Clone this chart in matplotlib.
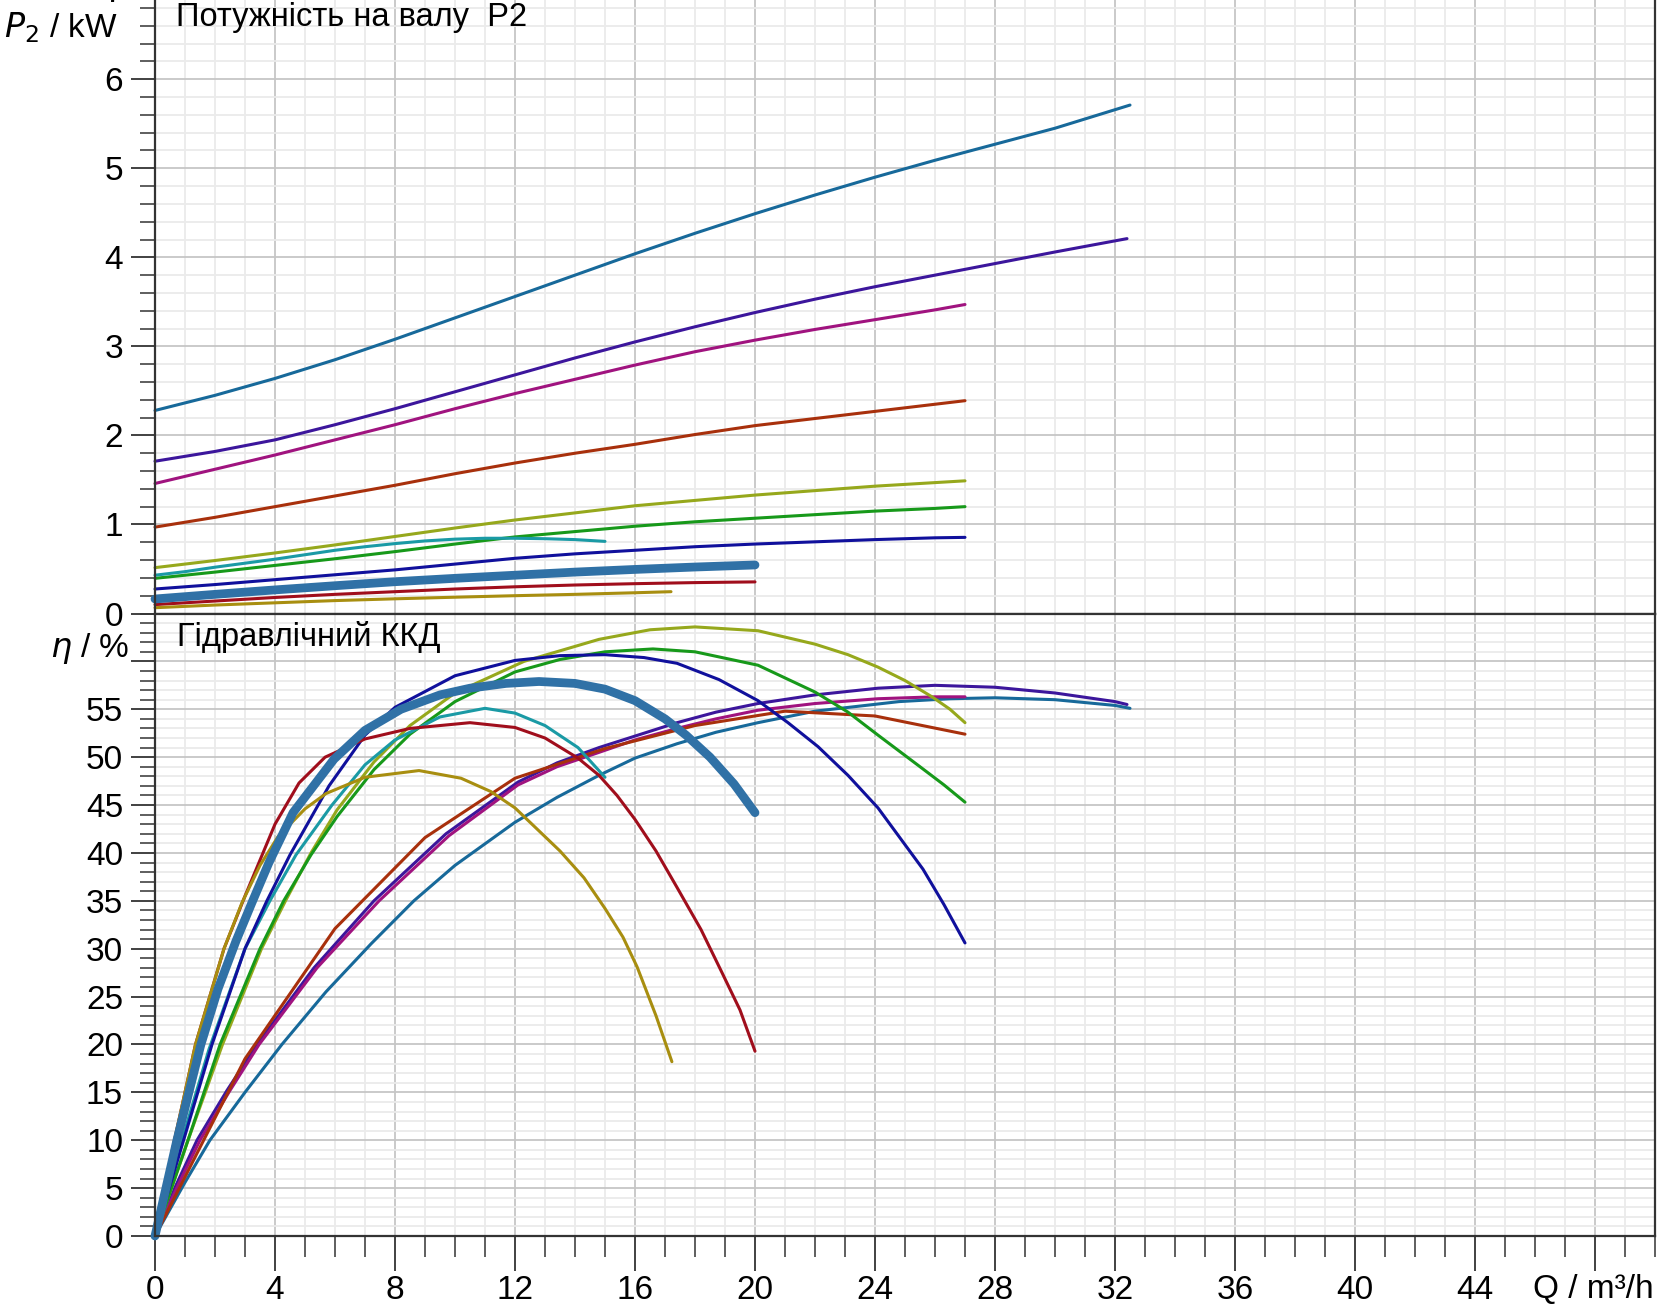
import matplotlib
matplotlib.use('Agg')
import matplotlib.pyplot as plt
from matplotlib.ticker import MultipleLocator

plt.rcParams['font.family'] = ['Liberation Sans', 'DejaVu Sans']

# ---------------- shaft power P2 (kW) vs Q (m3/h) ----------------
p_q_teal = [0, 2, 4, 6, 8, 10, 12, 14, 16, 18, 20, 22, 24, 26, 28, 30, 32.5]
p_teal = [2.28, 2.45, 2.64, 2.85, 3.08, 3.32, 3.56, 3.8, 4.04, 4.27, 4.49, 4.7, 4.9, 5.09, 5.27, 5.45, 5.71]
p_q_indigo = [0, 2, 4, 6, 8, 10, 12, 14, 16, 18, 20, 22, 24, 26, 28, 30, 32.4]
p_indigo = [1.71, 1.82, 1.95, 2.12, 2.3, 2.49, 2.68, 2.87, 3.05, 3.22, 3.38, 3.53, 3.67, 3.8, 3.93, 4.06, 4.21]
p_q_magenta = [0, 2, 4, 6, 8, 10, 12, 14, 16, 18, 20, 22, 24, 26, 27]
p_magenta = [1.46, 1.62, 1.78, 1.95, 2.12, 2.3, 2.47, 2.63, 2.79, 2.94, 3.07, 3.19, 3.3, 3.41, 3.47]
p_q_brown = [0, 2, 4, 6, 8, 10, 12, 14, 16, 18, 20, 22, 24, 26, 27]
p_brown = [0.97, 1.08, 1.2, 1.32, 1.44, 1.57, 1.69, 1.8, 1.9, 2.01, 2.11, 2.19, 2.27, 2.35, 2.39]
p_q_olive = [0, 2, 4, 6, 8, 10, 12, 14, 16, 18, 20, 22, 24, 26, 27]
p_olive = [0.515, 0.595, 0.68, 0.77, 0.865, 0.96, 1.05, 1.13, 1.21, 1.27, 1.33, 1.38, 1.43, 1.47, 1.49]
p_q_green = [0, 2, 4, 6, 8, 10, 12, 14, 16, 18, 20, 22, 24, 26, 27]
p_green = [0.395, 0.465, 0.54, 0.615, 0.695, 0.78, 0.86, 0.92, 0.98, 1.03, 1.07, 1.11, 1.15, 1.18, 1.2]
p_q_cyan = [0, 1, 2, 3, 4, 5, 6, 7, 8, 9, 10, 11, 12, 13, 14, 15]
p_cyan = [0.43, 0.47, 0.52, 0.565, 0.61, 0.66, 0.71, 0.75, 0.785, 0.815, 0.835, 0.845, 0.845, 0.84, 0.83, 0.81]
p_q_navy = [0, 2, 4, 6, 8, 10, 12, 14, 16, 18, 20, 22, 24, 26, 27]
p_navy = [0.275, 0.325, 0.38, 0.435, 0.49, 0.555, 0.62, 0.67, 0.71, 0.75, 0.78, 0.805, 0.83, 0.85, 0.855]
p_q_steel = [0, 2, 4, 6, 8, 10, 12, 14, 16, 18, 20]
p_steel = [0.163, 0.215, 0.265, 0.312, 0.357, 0.395, 0.43, 0.465, 0.495, 0.522, 0.545]
p_q_crimson = [0, 2, 4, 6, 8, 10, 12, 14, 16, 18, 20]
p_crimson = [0.10, 0.14, 0.18, 0.215, 0.245, 0.275, 0.30, 0.32, 0.335, 0.347, 0.355]
p_q_gold = [0, 2, 4, 6, 8, 10, 12, 14, 16, 17.2]
p_gold = [0.065, 0.095, 0.12, 0.145, 0.165, 0.183, 0.2, 0.215, 0.233, 0.245]

# ---------------- hydraulic efficiency (%) vs Q (m3/h) ----------------
e_q_teal = [0, 1, 1.83, 3, 4.23, 5.7, 7.2, 8.63, 10, 12, 13.4, 14.8, 16, 17.4, 18.7, 20.1, 22, 24.8,
            26.5, 28, 30, 32, 32.5]
e_teal = [0, 5.6, 10, 15, 20, 25.5, 30.5, 35, 38.7, 43.2, 45.8, 48.1, 49.9, 51.4, 52.6, 53.6, 54.8, 55.8,
          56.1, 56.2, 56.0, 55.4, 55.1]
e_q_indigo = [0, 0.7, 1.4, 2.4, 3.4, 5.3, 7.3, 9.7, 12.1, 13.4, 14.8, 16, 17.4, 18.7, 20.1, 22, 24.1,
              26, 28, 30, 32, 32.4]
e_indigo = [0, 5.3, 10, 15.2, 20, 28, 35, 42, 47.4, 49.4, 51.0, 52.2, 53.6, 54.7, 55.6, 56.5, 57.2,
            57.5, 57.3, 56.7, 55.8, 55.5]
e_q_magenta = [0, 0.75, 1.5, 2.5, 3.47, 5.4, 7.47, 9.8, 12.1, 13.4, 14.8, 16, 17.4, 18.7, 20.1, 22,
               24.1, 26, 27]
e_magenta = [0, 5.2, 10, 15.2, 20, 28, 35, 41.8, 47.1, 49.0, 50.5, 51.8, 53.0, 54.0, 54.9, 55.6,
             56.1, 56.3, 56.3]
e_q_brown = [0, 3, 6, 9, 12, 15, 18, 21, 24, 27]
e_brown = [0, 18.5, 32.1, 41.6, 47.8, 50.9, 53.3, 54.8, 54.3, 52.4]
e_q_olive = [0, 1.1, 2.25, 3.55, 4.35, 5.2, 6.07, 7.3, 8.5, 10, 12.3, 14.8, 16.5, 18, 20.1, 22, 23.1,
             24.1, 25.0, 25.9, 26.5, 27]
e_olive = [0, 10, 20, 30, 35, 40, 44.5, 49.5, 53.3, 56.7, 60.0, 62.3, 63.3, 63.6, 63.2, 61.8, 60.7,
           59.4, 58.0, 56.3, 55.0, 53.6]
e_q_green = [0, 1.1, 2.17, 3.5, 4.29, 5.2, 6.07, 7.3, 8.5, 10, 12, 13.5, 15, 16.6, 18, 20.1, 22, 23.1,
             24.1, 25.5, 26.3, 27]
e_green = [0, 10, 20, 30, 35, 39.8, 43.8, 48.7, 52.4, 55.8, 58.9, 60.2, 61.0, 61.3, 61.0, 59.6, 56.8,
           54.7, 52.3, 49.0, 47.1, 45.3]
e_q_cyan = [0, 0.9, 1.8, 3.0, 3.83, 4.7, 5.9, 7, 8, 9.5, 11, 12, 13, 14.1, 15]
e_cyan = [0, 10, 19.5, 30, 35, 39.8, 45, 49.2, 51.8, 54.2, 55.1, 54.6, 53.3, 51.0, 47.9]
e_q_navy = [0, 1.0, 1.9, 3.0, 3.73, 4.5, 5.8, 7, 8, 10, 12, 13.5, 15, 16.3, 17.4, 18.8, 20.1, 21.1,
            22.1, 23.1, 24.1, 25.6, 26.3, 27]
e_navy = [0, 10.5, 20, 30, 35, 39.8, 47, 52.3, 55.2, 58.5, 60.1, 60.6, 60.7, 60.4, 59.8, 58.1, 55.9,
          53.6, 51.1, 48.1, 44.7, 38.3, 34.6, 30.6]
e_q_steel = [0, 0.73, 1.53, 2.1, 2.7, 3.23, 3.8, 4.6, 5.97, 7, 8.2, 9.5, 10.5, 11.7, 12.8, 14, 15, 16,
             17, 17.7, 18.5, 19.3, 20]
e_steel = [0, 10, 20, 25.8, 30.8, 34.8, 39, 44.2, 49.8, 52.8, 55.0, 56.5, 57.2, 57.7, 57.9, 57.7, 57.1,
           55.9, 54.0, 52.3, 50.0, 47.2, 44.2]
e_q_crimson = [0, 0.65, 1.35, 2.3, 3.0, 4.0, 4.8, 5.67, 7, 8.5, 10.5, 12, 13, 14.1, 14.8, 15.4, 16,
               16.7, 17.4, 18.2, 18.9, 19.5, 20]
e_crimson = [0, 10, 20, 30, 35.5, 43, 47.3, 50.0, 51.9, 53.0, 53.6, 53.1, 52.0, 49.9, 48.1, 46.0,
             43.5, 40.2, 36.4, 32.0, 27.5, 23.6, 19.3]
e_q_gold = [0, 0.65, 1.35, 2.3, 2.9, 3.5, 4.1, 5.0, 5.7, 7, 8.8, 10.2, 11.2, 12, 13.5, 14.3, 15, 15.6,
            16.07, 16.7, 17.23]
e_gold = [0, 10, 20, 30, 34.8, 38.7, 41.7, 44.6, 46.2, 47.9, 48.6, 47.8, 46.4, 44.7, 40.2, 37.4, 34.2,
          31.2, 28.1, 23.0, 18.2]

x_ticks = [0, 4, 8, 12, 16, 20, 24, 28, 32, 36, 40, 44]
p_ticks = [0, 1, 2, 3, 4, 5, 6]
e_ticks = [0, 5, 10, 15, 20, 25, 30, 35, 40, 45, 50, 55]

curves = [
    # (power q, power, eff q, eff, colour, width)
    (p_q_teal, p_teal, e_q_teal, e_teal, '#17699a', 2.2),
    (p_q_indigo, p_indigo, e_q_indigo, e_indigo, '#3c169c', 2.2),
    (p_q_magenta, p_magenta, e_q_magenta, e_magenta, '#a0137f', 2.2),
    (p_q_brown, p_brown, e_q_brown, e_brown, '#a8300c', 2.2),
    (p_q_olive, p_olive, e_q_olive, e_olive, '#96a81c', 2.2),
    (p_q_green, p_green, e_q_green, e_green, '#17991a', 2.2),
    (p_q_cyan, p_cyan, e_q_cyan, e_cyan, '#1a9aa5', 2.2),
    (p_q_navy, p_navy, e_q_navy, e_navy, '#10109c', 2.2),
    (p_q_crimson, p_crimson, e_q_crimson, e_crimson, '#a00e1c', 2.2),
    (p_q_gold, p_gold, e_q_gold, e_gold, '#a88e10', 2.2),
    (p_q_steel, p_steel, e_q_steel, e_steel, '#3071a6', 6.3),
]

FS = 24
W, H = 1662, 1305
fig = plt.figure(figsize=(W / 100, H / 100), dpi=100)
left, right = 155 / W, 1655 / W
y_mid = 1 - 613.5 / H
y_bot = 1 - 1236 / H
ax_p = fig.add_axes([left, y_mid, right - left, 1 - y_mid])
ax_e = fig.add_axes([left, y_bot, right - left, y_mid - y_bot])

for ax in (ax_p, ax_e):
    ax.set_xlim(0, 50)
    ax.xaxis.set_major_locator(MultipleLocator(4))
    ax.xaxis.set_minor_locator(MultipleLocator(1))
    ax.grid(which='major', color='#c6c6c6', linewidth=1.3)
    ax.grid(which='minor', color='#ebebeb', linewidth=1.3)
    ax.set_axisbelow(True)
    for s in ax.spines.values():
        s.set_color('#333333')
        s.set_linewidth(1.6)
    ax.tick_params(which='major', length=17, width=1.3, color='#333333', labelsize=FS, pad=6)
    ax.tick_params(which='minor', length=11, width=1.1, color='#333333')

ax_p.set_ylim(0, 6.89)
ax_p.yaxis.set_minor_locator(MultipleLocator(0.2))
ax_p.set_yticks(p_ticks)
ax_p.set_yticklabels([str(v) for v in p_ticks])
ax_p.tick_params(axis='x', which='both', bottom=False, labelbottom=False)
ax_p.spines['top'].set_visible(False)
# the "7" label of the power axis, cut by the top edge as in the original
ax_p.text(-32 / 1500, 7, '7', transform=ax_p.get_yaxis_transform(), ha='right',
          va='center_baseline', fontsize=FS, clip_on=False)

ax_e.set_ylim(0, 65)
ax_e.yaxis.set_minor_locator(MultipleLocator(1))
ax_e.set_yticks(e_ticks + [60])
ax_e.set_yticklabels([str(v) for v in e_ticks] + [''])
ax_e.set_xticks(x_ticks + [48])
ax_e.set_xticklabels([str(v) for v in x_ticks] + [''])
ax_e.tick_params(axis='x', which='major', length=25, pad=3)
ax_e.tick_params(axis='x', which='minor', length=15)
ax_e.set_ylim(0, 65)
ax_e.set_xlim(0, 50)

for pq, pv, eq, ev, col, lw in curves:
    ax_p.plot(pq, pv, color=col, linewidth=lw, solid_capstyle='round', solid_joinstyle='round',
              clip_on=False)
    ax_e.plot(eq, ev, color=col, linewidth=lw, solid_capstyle='round', solid_joinstyle='round',
              clip_on=False)

fig.text(176 / W, 1 - 26 / H, 'Потужність на валу  P2', fontsize=23.5, va='baseline')
fig.text(177 / W, 1 - 646 / H, 'Гідравлічний ККД', fontsize=23.5, va='baseline')
fig.text(4 / W, 1 - 37 / H, r'$\it{P}_{\rm 2}$ / kW', fontsize=FS, va='baseline')
fig.text(50 / W, 1 - 657 / H, r'$\it{\eta}$ / %', fontsize=FS, va='baseline')
fig.text(1654 / W, 1 - 1298 / H, 'Q / m³/h', fontsize=FS, va='baseline', ha='right')

fig.savefig('out.png', dpi=100)
